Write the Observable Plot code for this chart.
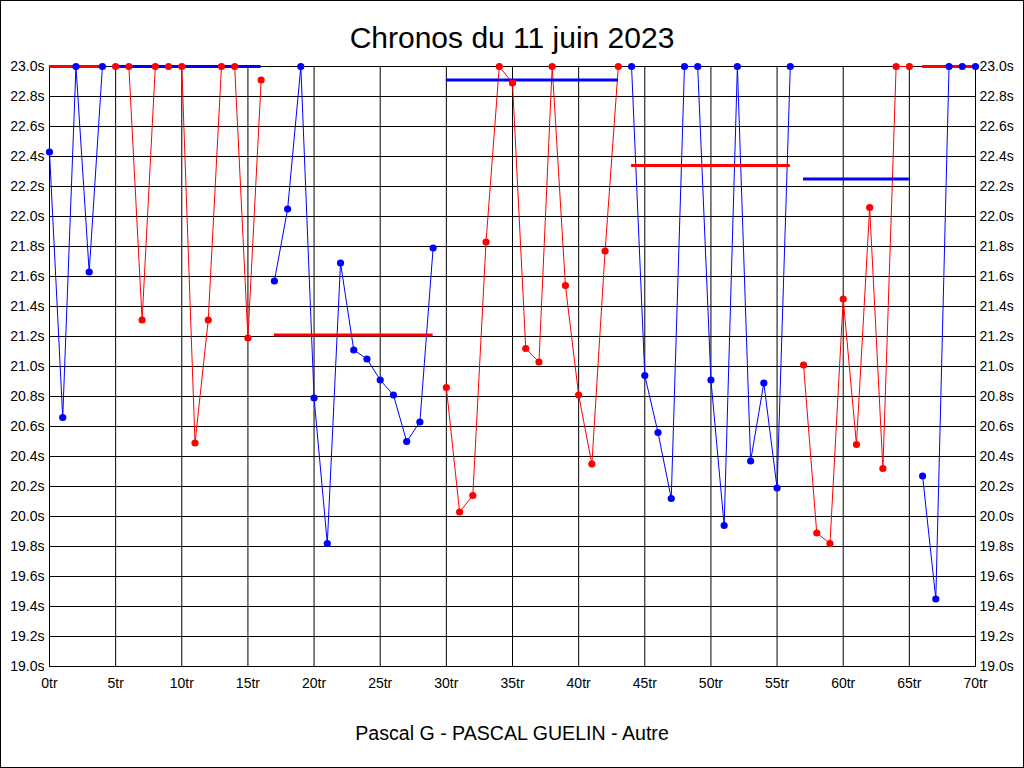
<!DOCTYPE html>
<html>
<head>
<meta charset="utf-8">
<script src="https://cdn.jsdelivr.net/npm/d3@7"></script>
<script src="https://cdn.jsdelivr.net/npm/@observablehq/plot@0.6"></script>
<style>
  html, body { margin: 0; padding: 0; background: #fff; }
  #wrap { position: relative; width: 1024px; height: 768px; background: #fff; overflow: hidden; }
  #border { position: absolute; left: 0; top: 0; width: 1024px; height: 768px; box-sizing: border-box; border: 1px solid #000; pointer-events: none; }
  #title { position: absolute; left: 0; top: 23px; width: 1024px; text-align: center; font-family: "Liberation Sans", Arial, sans-serif; font-size: 30px; line-height: 30px; color: #000; }
  #caption { position: absolute; left: 0; top: 723px; width: 1024px; text-align: center; font-family: "Liberation Sans", Arial, sans-serif; font-size: 19.6px; line-height: 20px; color: #000; }
  #chart { position: absolute; left: 0; top: 56px; }
</style>
</head>
<body>
<div id="wrap">
  <div id="title">Chronos du 11 juin 2023</div>
  <div id="chart"></div>
  <div id="caption">Pascal G - PASCAL GUELIN - Autre</div>
  <div id="border"></div>
</div>
<script>
// Lap times (seconds), one per lap, lap number = position in the array (0..70)
const times = [
  22.43, 20.66, 23.0, 21.63, 23.0,                                            // laps 0-4
  23.0, 23.0, 21.31, 23.0, 23.0, 23.0, 20.49, 21.31, 23.0, 23.0, 21.19, 22.91,  // laps 5-16
  21.57, 22.05, 23.0, 20.79, 19.82, 21.69, 21.11, 21.05, 20.91, 20.81, 20.50, 20.63, 21.79, // laps 17-29
  20.86, 20.03, 20.14, 21.83, 23.0, 22.89, 21.12, 21.03, 23.0, 21.54, 20.81, 20.35, 21.77, 23.0, // laps 30-43
  23.0, 20.94, 20.56, 20.12, 23.0, 23.0, 20.91, 19.94, 23.0, 20.37, 20.89, 20.19, 23.0, // laps 44-56
  21.01, 19.89, 19.82, 21.45, 20.48, 22.06, 20.32, 23.0, 23.0,                 // laps 57-65
  20.27, 19.45, 23.0, 23.0, 23.0                                               // laps 66-70
];
// Segments (relays)
const segStart = [0, 5, 17, 30, 44, 57, 66];
const segEnd   = [4, 16, 29, 43, 56, 65, 70];
const segColor = ["blue", "red", "blue", "red", "blue", "red", "blue"];
const avgColor = ["red", "blue", "red", "blue", "red", "blue", "red"];
const segAvg   = [23.0, 23.0, 21.21, 22.91, 22.34, 22.25, 23.0];
// Ticks
const yTicks = [19.0, 19.2, 19.4, 19.6, 19.8, 20.0, 20.2, 20.4, 20.6, 20.8, 21.0,
                21.2, 21.4, 21.6, 21.8, 22.0, 22.2, 22.4, 22.6, 22.8, 23.0];
const xTicks = [0, 5, 10, 15, 20, 25, 30, 35, 40, 45, 50, 55, 60, 65, 70];

const rows = times.map((t, i) => {
  const seg = segStart.findIndex((s, k) => i >= s && i <= segEnd[k]);
  return { lap: i, time: t, seg, color: segColor[seg] };
});
const avgRows = segAvg.map((a, k) => ({ avg: a, start: segStart[k], end: segEnd[k], color: avgColor[k] }));

const fmtY = d => d.toFixed(1) + "s";

const chart = Plot.plot({
  width: 1024,
  height: 640,
  marginTop: 10,
  marginBottom: 30,
  marginLeft: 49,
  marginRight: 49,
  style: { fontFamily: "'Liberation Sans', Arial, sans-serif", fontSize: "14px", color: "#000", background: "#fff", overflow: "visible" },
  x: { domain: [0, 70] },
  y: { domain: [19, 23] },
  color: { type: "identity" },
  marks: [
    Plot.gridY({ ticks: yTicks, stroke: "#000", strokeOpacity: 1, strokeWidth: 1 }),
    Plot.gridX({ ticks: xTicks, stroke: "#000", strokeOpacity: 1, strokeWidth: 1 }),
    Plot.frame({ stroke: "#000", strokeWidth: 1 }),
    Plot.axisY({ anchor: "left", ticks: yTicks, tickSize: 0, tickPadding: 5, tickFormat: fmtY, label: null }),
    Plot.axisY({ anchor: "right", ticks: yTicks, tickSize: 0, tickPadding: 4, tickFormat: fmtY, label: null }),
    Plot.axisX({ ticks: xTicks, tickSize: 0, tickPadding: 12, tickFormat: d => d + "tr", label: null }),
    Plot.line(rows, { x: "lap", y: "time", z: "seg", stroke: "color", strokeWidth: 1 }),
    Plot.ruleY(avgRows, { y: "avg", x1: "start", x2: "end", stroke: "color", strokeWidth: 3 }),
    Plot.dot(rows, { x: "lap", y: "time", fill: "color", r: 3.6, stroke: null })
  ]
});
document.getElementById("chart").appendChild(chart);
</script>
</body>
</html>
